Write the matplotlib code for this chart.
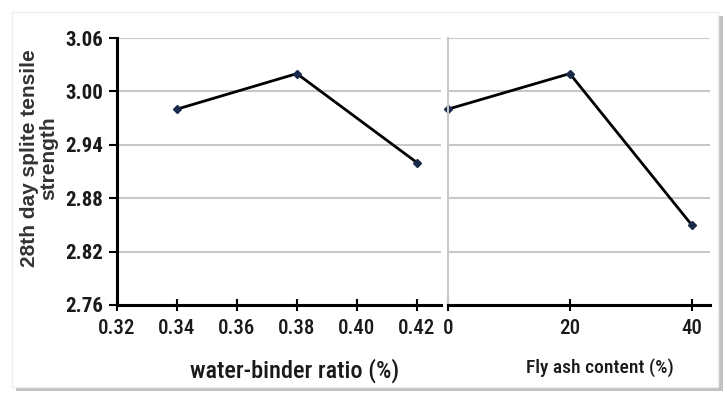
import matplotlib
matplotlib.use("Agg")
import matplotlib.pyplot as plt
from matplotlib.patches import FancyBboxPatch

# data
wb_ratio = [0.34, 0.38, 0.42]
wb_strength = [2.98, 3.02, 2.92]
fly_ash = [0, 20, 40]
fa_strength = [2.98, 3.02, 2.85]
y_ticks = [2.76, 2.82, 2.88, 2.94, 3.00, 3.06]
wb_ticks = [0.32, 0.34, 0.36, 0.38, 0.40, 0.42]
fa_ticks = [0, 20, 40]

narrow = ['Roboto Condensed', 'DejaVu Sans']
bold = ['Liberation Sans', 'DejaVu Sans']

fig = plt.figure(figsize=(7.27, 3.96), dpi=100)

# background frame with a soft shadow
shadow = FancyBboxPatch((0.022, 0.012), 0.972, 0.948, boxstyle="square,pad=0",
                        transform=fig.transFigure, facecolor='#9a9a9a',
                        edgecolor='none', alpha=0.6, zorder=-2)
frame = FancyBboxPatch((0.016, 0.022), 0.972, 0.948, boxstyle="square,pad=0",
                       transform=fig.transFigure, facecolor='white',
                       edgecolor='#eeeeee', zorder=-1)
fig.patches.extend([shadow, frame])

ax1 = fig.add_axes([0.1605, 0.2298, 0.4461, 0.6742])
ax2 = fig.add_axes([0.616, 0.2298, 0.3606, 0.6742])

for ax in (ax1, ax2):
    ax.set_facecolor('none')
    ax.set_ylim(2.76, 3.06)
    ax.set_yticks(y_ticks)
    ax.grid(axis='y', color='#c8c8c8', linewidth=1.5)
    ax.set_axisbelow(True)
    for s in ('top', 'right'):
        ax.spines[s].set_visible(False)
    ax.spines['bottom'].set_linewidth(2.2)
    ax.tick_params(axis='x', direction='inout', length=8, width=1.5,
                   labelsize=15, pad=6, labelcolor='#1a1a1a')

ax1.plot(wb_ratio, wb_strength, color='black', linewidth=2, marker='D',
         markersize=4, markerfacecolor='#1a2a4a', markeredgecolor='#1a2a4a',
         clip_on=False)
ax1.set_xlim(0.32, 0.428)
ax1.set_xticks(wb_ticks)
ax1.set_xticklabels([f"{t:.2f}" for t in wb_ticks], family=narrow,
                    fontweight='medium')
ax1.set_yticklabels([f"{t:.2f}" for t in y_ticks], family=narrow,
                    fontweight='bold')
ax1.spines['left'].set_linewidth(2.2)
ax1.tick_params(axis='y', direction='out', length=6, width=1.5, labelsize=15,
                labelcolor='#1a1a1a')
ax1.set_xlabel('water-binder ratio (%)', family=narrow, fontsize=17.5,
               fontweight='medium', color='#1a1a1a')
ax1.xaxis.set_label_coords(0.547, -0.2)
ax1.set_ylabel('28th day splite tensile\nstrength', family=bold, fontsize=15,
               fontweight='bold', linespacing=1.0, color='#333333')
ax1.yaxis.set_label_coords(-0.18, 0.55)

ax2.plot(fly_ash, fa_strength, color='black', linewidth=2, marker='D',
         markersize=4, markerfacecolor='#1a2a4a', markeredgecolor='#1a2a4a',
         clip_on=False)
ax2.set_xlim(0, 43)
ax2.set_xticks(fa_ticks)
ax2.set_xticklabels([str(t) for t in fa_ticks], family=narrow,
                    fontweight='medium')
ax2.set_yticklabels([])
ax2.spines['left'].set_color('#c8c8c8')
ax2.spines['left'].set_linewidth(1.5)
ax2.tick_params(axis='y', length=0)
ax2.set_xlabel('Fly ash content (%)', family=narrow, fontsize=14,
               fontweight='medium', color='#1a1a1a')
ax2.xaxis.set_label_coords(0.58, -0.2)

fig.savefig('out.png', dpi=100)
